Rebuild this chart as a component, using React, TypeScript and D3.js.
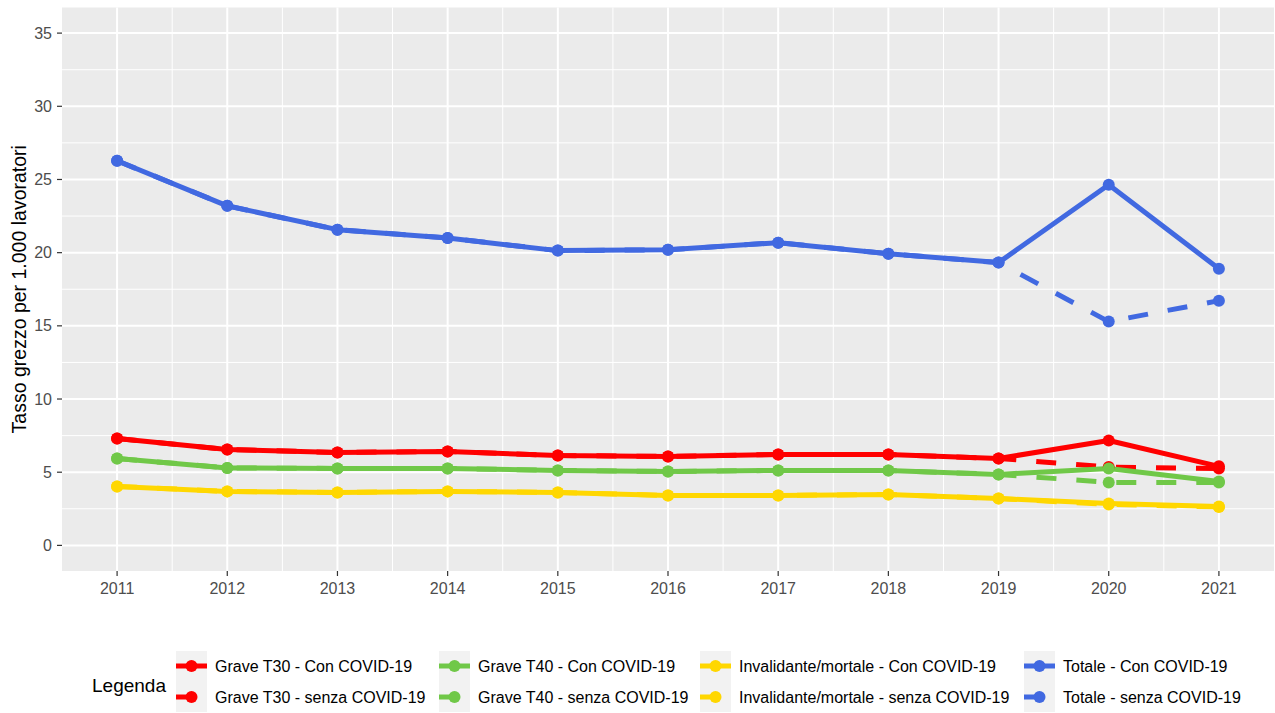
import React from "react";
import * as d3 from "d3";

const years = [2011, 2012, 2013, 2014, 2015, 2016, 2017, 2018, 2019, 2020, 2021];

const t30Con = [7.3, 6.55, 6.35, 6.42, 6.14, 6.08, 6.21, 6.21, 5.94, 7.17, 5.4];
const t30Senza = [7.3, 6.55, 6.35, 6.42, 6.14, 6.08, 6.21, 6.21, 5.94, 5.35, 5.25];
const t40Con = [5.94, 5.29, 5.26, 5.26, 5.12, 5.05, 5.12, 5.12, 4.85, 5.26, 4.37];
const t40Senza = [5.94, 5.29, 5.26, 5.26, 5.12, 5.05, 5.12, 5.12, 4.85, 4.3, 4.3];
const invCon = [4.03, 3.69, 3.62, 3.69, 3.62, 3.41, 3.41, 3.48, 3.2, 2.87, 2.66];
const invSenza = [4.03, 3.69, 3.62, 3.69, 3.62, 3.41, 3.41, 3.48, 3.2, 2.8, 2.63];
const totCon = [26.28, 23.2, 21.57, 21.0, 20.14, 20.2, 20.68, 19.93, 19.32, 24.64, 18.9];
const totSenza = [26.28, 23.2, 21.57, 21.0, 20.14, 20.2, 20.68, 19.93, 19.32, 15.29, 16.72];

const yTicks = [0, 5, 10, 15, 20, 25, 30, 35];
const yMinor = [2.5, 7.5, 12.5, 17.5, 22.5, 27.5, 32.5];

const RED = "#ff0000";
const GREEN = "#70c848";
const YELLOW = "#ffd700";
const BLUE = "#4169e1";

const series = [
  { label: "Grave T30 - Con COVID-19", values: t30Con, color: RED, dashed: false },
  { label: "Grave T30 - senza COVID-19", values: t30Senza, color: RED, dashed: true },
  { label: "Grave T40 - Con COVID-19", values: t40Con, color: GREEN, dashed: false },
  { label: "Grave T40 - senza COVID-19", values: t40Senza, color: GREEN, dashed: true },
  { label: "Invalidante/mortale - Con COVID-19", values: invCon, color: YELLOW, dashed: false },
  { label: "Invalidante/mortale - senza COVID-19", values: invSenza, color: YELLOW, dashed: true },
  { label: "Totale - Con COVID-19", values: totCon, color: BLUE, dashed: false },
  { label: "Totale - senza COVID-19", values: totSenza, color: BLUE, dashed: true },
];

const W = 1275;
const H = 713;
const panel = { left: 62, right: 1274, top: 7.5, bottom: 571 };
const FONT = "'Liberation Sans', Arial, sans-serif";

export default function App() {
  const x = d3.scaleLinear().domain([2010.5, 2021.5]).range([panel.left, panel.right]);
  const y = d3.scaleLinear().domain([-1.75, 36.75]).range([panel.bottom, panel.top]);
  const xMinor = years.slice(0, -1).map((v) => v + 0.5);

  const line = (vals: number[]) =>
    d3
      .line<number>()
      .x((_, i) => x(years[i]))
      .y((d) => y(d))(vals) || "";

  const lw = 5;
  const keyW = 31;
  const legendCols = [176, 439, 700, 1024];
  const legendRows = [666, 697];

  return (
    <svg width={W} height={H} style={{ position: "absolute", left: 0, top: 0, background: "#fff" }}>
      <rect x={0} y={0} width={W} height={H} fill="#fff" />
      <rect
        x={panel.left}
        y={panel.top}
        width={panel.right - panel.left}
        height={panel.bottom - panel.top}
        fill="#ebebeb"
      />
      {yMinor.map((v) => (
        <line key={"ym" + v} x1={panel.left} x2={panel.right} y1={y(v)} y2={y(v)} stroke="#fff" strokeWidth={1} />
      ))}
      {xMinor.map((v) => (
        <line key={"xm" + v} x1={x(v)} x2={x(v)} y1={panel.top} y2={panel.bottom} stroke="#fff" strokeWidth={1} />
      ))}
      {yTicks.map((v) => (
        <line key={"yM" + v} x1={panel.left} x2={panel.right} y1={y(v)} y2={y(v)} stroke="#fff" strokeWidth={2} />
      ))}
      {years.map((v) => (
        <line key={"xM" + v} x1={x(v)} x2={x(v)} y1={panel.top} y2={panel.bottom} stroke="#fff" strokeWidth={2} />
      ))}

      {series.map((s, i) => (
        <path
          key={"l" + i}
          d={line(s.values)}
          fill="none"
          stroke={s.color}
          strokeWidth={lw}
          strokeDasharray={s.dashed ? "20 20" : undefined}
          strokeLinejoin="round"
        />
      ))}
      {series.map((s, i) =>
        s.values.map((v, j) => (
          <circle key={"p" + i + "-" + j} cx={x(years[j])} cy={y(v)} r={6} fill={s.color} />
        ))
      )}

      {/* axes ticks */}
      {yTicks.map((v) => (
        <g key={"yt" + v}>
          <line x1={panel.left - 5} x2={panel.left} y1={y(v)} y2={y(v)} stroke="#333" strokeWidth={1.2} />
          <text
            x={panel.left - 10}
            y={y(v)}
            dy="0.35em"
            textAnchor="end"
            fontFamily={FONT}
            fontSize={16}
            fill="#4d4d4d"
          >
            {v}
          </text>
        </g>
      ))}
      {years.map((v) => (
        <g key={"xt" + v}>
          <line x1={x(v)} x2={x(v)} y1={panel.bottom} y2={panel.bottom + 5} stroke="#333" strokeWidth={1.2} />
          <text
            x={x(v)}
            y={panel.bottom + 17}
            dy="0.35em"
            textAnchor="middle"
            fontFamily={FONT}
            fontSize={16}
            fill="#4d4d4d"
          >
            {v}
          </text>
        </g>
      ))}
      <text
        transform={`translate(${19},${(panel.top + panel.bottom) / 2}) rotate(-90)`}
        textAnchor="middle"
        dy="0.35em"
        fontFamily={FONT}
        fontSize={19.5}
        fill="#000"
      >
        Tasso grezzo per 1.000 lavoratori
      </text>

      {/* legend */}
      <text x={92} y={685} dy="0.35em" fontFamily={FONT} fontSize={19} fill="#000">
        Legenda
      </text>
      {legendCols.map((cx, c) => (
        <rect key={"kb" + c} x={cx} y={651} width={keyW} height={61} fill="#f2f2f2" />
      ))}
      {series.map((s, i) => {
        const col = Math.floor(i / 2);
        const row = i % 2;
        const kx = legendCols[col];
        const ky = legendRows[row];
        return (
          <g key={"lg" + i}>
            <line
              x1={kx}
              x2={kx + keyW}
              y1={ky}
              y2={ky}
              stroke={s.color}
              strokeWidth={lw}
              strokeDasharray={s.dashed ? "20 20" : undefined}
            />
            <circle cx={kx + keyW / 2} cy={ky} r={6} fill={s.color} />
            <text x={kx + 39} y={ky} dy="0.35em" fontFamily={FONT} fontSize={16} fill="#000">
              {s.label}
            </text>
          </g>
        );
      })}
    </svg>
  );
}
